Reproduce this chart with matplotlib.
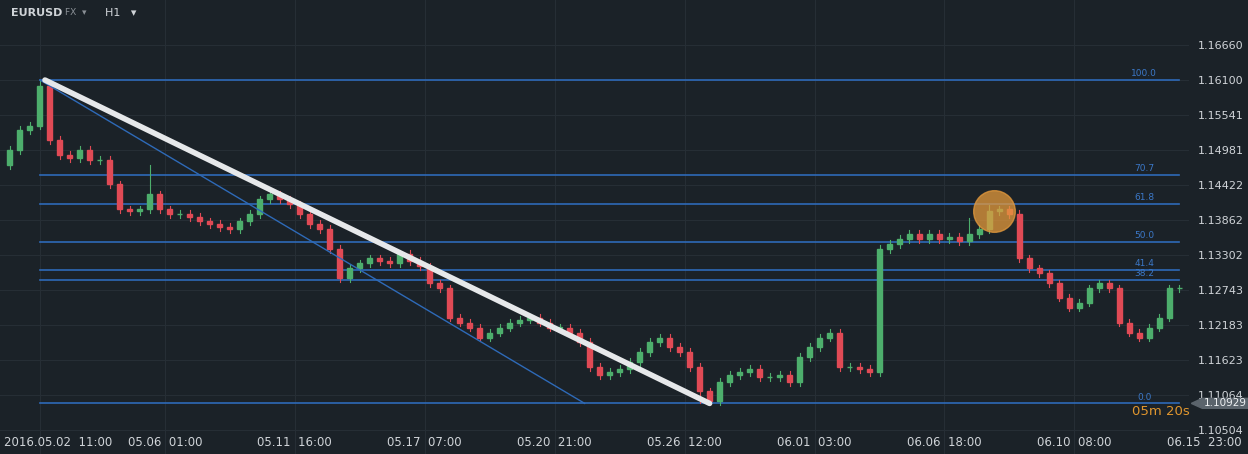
import matplotlib
matplotlib.use("Agg")
import matplotlib.pyplot as plt
from matplotlib.patches import Rectangle, Polygon

closes = [1.1498,1.1530,1.1537,1.1601,1.1514,1.1490,1.1485,1.1498,1.1482,1.1482,
1.1443,1.1403,1.1400,1.1403,1.1427,1.1403,1.1396,1.1396,1.1391,1.1384,
1.1380,1.1375,1.1372,1.1384,1.1396,1.1419,1.1427,1.1419,1.1411,1.1396,
1.1380,1.1372,1.1340,1.1293,1.1309,1.1317,1.1325,1.1321,1.1317,1.1332,
1.1321,1.1312,1.1285,1.1277,1.1230,1.1222,1.1214,1.1198,1.1206,1.1214,
1.1222,1.1227,1.1230,1.1222,1.1214,1.1214,1.1206,1.1191,1.1151,1.1138,
1.1143,1.1148,1.1159,1.1175,1.1191,1.1198,1.1183,1.1175,1.1151,1.1112,
1.1096,1.1127,1.1138,1.1143,1.1148,1.1135,1.1135,1.1138,1.1127,1.1167,
1.1183,1.1198,1.1206,1.1151,1.1151,1.1148,1.1143,1.1340,1.1348,1.1356,
1.1364,1.1356,1.1364,1.1356,1.1359,1.1353,1.1364,1.1372,1.1400,1.1403,
1.1396,1.1325,1.1309,1.1301,1.1285,1.1262,1.1246,1.1254,1.1277,1.1285,
1.1277,1.1222,1.1206,1.1198,1.1214,1.1230,1.1277,1.1277]
first_open = 1.1474
wick = 0.0006
spikes = {3: 1.1610, 14: 1.1474, 69: 1.1093, 96: 1.1390, 98: 1.1410}
fib_hi, fib_lo = 1.16100, 1.10929
fib_levels = [100.0, 70.7, 61.8, 50.0, 41.4, 38.2, 0.0]
yticks = [1.16660,1.16100,1.15541,1.14981,1.14422,1.13862,1.13302,1.12743,1.12183,1.11623,1.11064,1.10504]
grid_x = [3, 15.5, 28.5, 41.5, 54.5, 67.5, 80.5, 93.5, 106.5]
xtick_lab = ["2016.05.02  11:00","05.06  01:00","05.11  16:00","05.17  07:00","05.20  21:00",
             "05.26  12:00","06.01  03:00","06.06  18:00","06.10  08:00"]

bg = "#1b2228"
fig = plt.figure(figsize=(12.48, 4.54), dpi=100, facecolor=bg)
ax = fig.add_axes([0, 0, 0.953, 1], facecolor=bg)
ax.set_xlim(-1, 118)
ax.set_ylim(1.1012, 1.1738)
for s in ax.spines.values():
    s.set_visible(False)

ax.set_yticks(yticks)
ax.set_yticklabels([f"{v:.5f}" for v in yticks])
ax.yaxis.tick_right()
ax.tick_params(axis='y', length=0, pad=6, labelcolor="#d0d4d8", labelsize=8)
ax.set_xticks(grid_x)
ax.set_xticklabels([])
ax.tick_params(axis='x', length=0)
ax.grid(True, color="#262e35", lw=0.8)
ax.set_axisbelow(True)
ylab = 1.1012 + 0.0019
for xp, lab in zip(grid_x, xtick_lab):
    if xp == grid_x[0]:
        ax.text(-0.6, ylab, lab, ha='left', va='center', color="#d0d4d8", fontsize=8.5)
    else:
        ax.text(xp, ylab, lab, ha='center', va='center', color="#d0d4d8", fontsize=8.5)
ax.text(119.5, ylab, "06.15  23:00", ha='center', va='center', color="#d0d4d8",
        fontsize=8.5, clip_on=False)

o = first_open
for i, c in enumerate(closes):
    col = "#4dae6c" if c >= o else "#e04a55"
    hi = max(o, c) + wick
    lo = min(o, c) - wick
    if i in spikes:
        v = spikes[i]
        hi = max(hi, v); lo = min(lo, v)
    ax.plot([i, i], [lo, hi], color=col, lw=0.8, zorder=3)
    ax.add_patch(Rectangle((i - 0.25, min(o, c)), 0.5, max(abs(c - o), 0.00005), color=col, zorder=3))
    o = c

for lv in fib_levels:
    p = fib_lo + lv / 100 * (fib_hi - fib_lo)
    ax.plot([3, 117], [p, p], color="#2e6ab8", lw=1.2, zorder=2)
    ax.text(113.5, p + 0.0003, f"{lv:.1f}", color="#3b78c8", fontsize=6.5, ha='center', va='bottom')

ax.plot([3, 57.5], [fib_hi, fib_lo], color="#2e6ab8", lw=1.0, zorder=4)
ax.plot([3.5, 70], [fib_hi, fib_lo], color="#e6e8ea", lw=4, solid_capstyle='round', zorder=5)
ax.scatter([98.5], [1.1400], s=900, color="#e59a3c", alpha=0.75, zorder=6)

# current price tag
ax.add_patch(Polygon([[118.2, 1.10929], [119.3, 1.1101], [123.9, 1.1101], [123.9, 1.1085], [119.3, 1.1085]],
                     closed=True, color="#5b646c", clip_on=False, zorder=7))
ax.text(121.6, 1.10929, "1.10929", color="#eef0f2", fontsize=7.5, ha='center', va='center', clip_on=False, zorder=8)
ax.text(115.2, 1.1080, "05m 20s", color="#e0962e", fontsize=9.5, ha='center', va='center', zorder=8)

fig.text(0.009, 0.972, "EURUSD", color="#d0d4d8", fontsize=8, fontweight='bold', va='center')
fig.text(0.052, 0.972, "FX  \u25be", color="#8a9096", fontsize=6.5, va='center')
fig.text(0.084, 0.972, "H1   \u25be", color="#d0d4d8", fontsize=8, va='center')

fig.savefig("out.png", dpi=100, facecolor=bg)
